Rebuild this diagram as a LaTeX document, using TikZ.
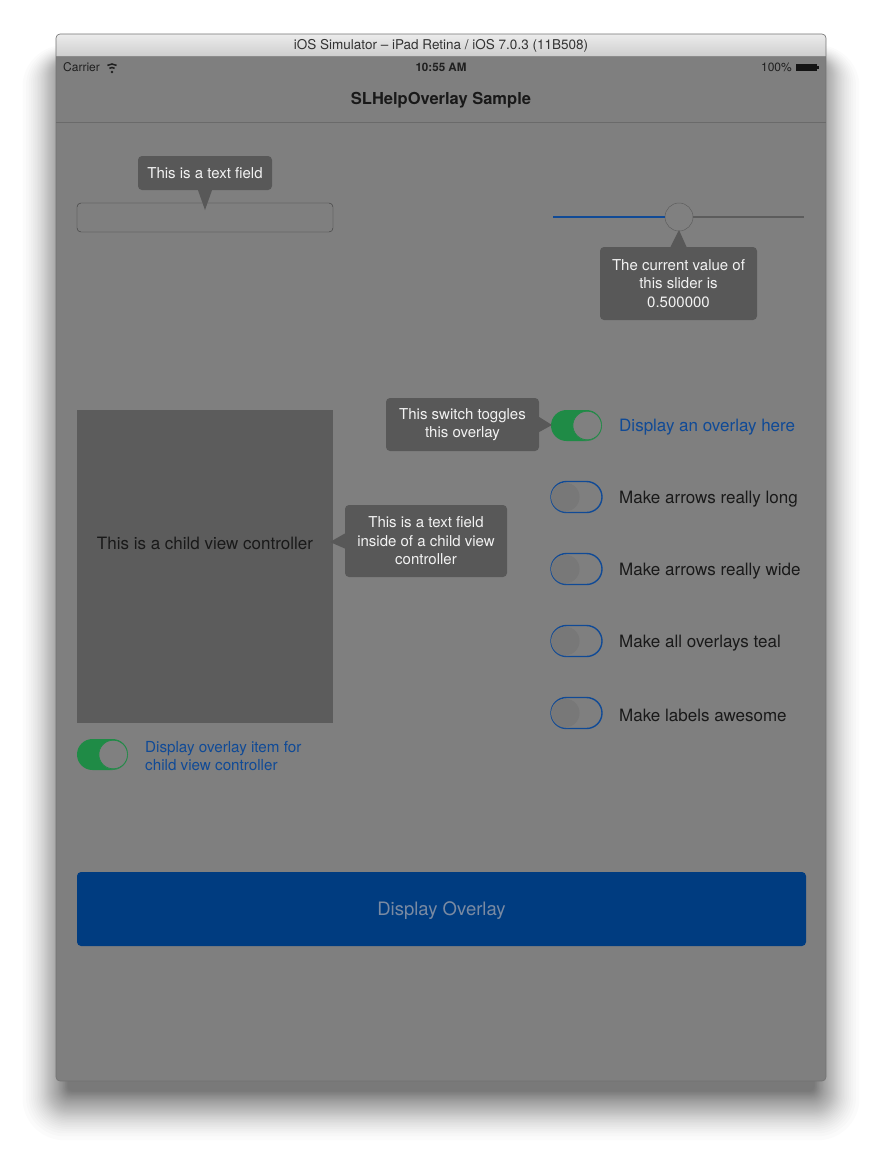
\documentclass[tikz,border=0pt]{standalone}
\usepackage{fontspec}
\setmainfont{TeX Gyre Heros}
\usepackage{tikz}
\usetikzlibrary{positioning, shadows}

\definecolor{dimbg}{RGB}{127,127,127}
\definecolor{titletop}{RGB}{236,236,236}
\definecolor{titlebot}{RGB}{206,206,206}
\definecolor{tipgray}{RGB}{88,88,88}
\definecolor{tiptext}{RGB}{242,242,242}
\definecolor{childgray}{RGB}{92,92,92}
\definecolor{dimblue}{RGB}{16,74,150}
\definecolor{dimgreen}{RGB}{31,139,70}
\definecolor{btnblue}{RGB}{0,60,128}
\definecolor{btntext}{RGB}{122,138,162}
\definecolor{barline}{RGB}{106,106,106}
\definecolor{knobgray}{RGB}{128,128,128}
\definecolor{trackgray}{RGB}{92,92,92}

\tikzstyle{helptip}    = [fill=tipgray, text=tiptext, rounded corners=4pt, inner sep=0pt, align=center, font=\fontsize{15}{18.5}\selectfont]
\tikzstyle{pointer}    = [fill=tipgray]
\tikzstyle{swbody}     = [minimum width=51pt, minimum height=31pt, rounded corners=15.5pt, inner sep=0pt]
\tikzstyle{swon}       = [swbody, fill=dimgreen]
\tikzstyle{swoff}      = [swbody, draw=dimblue, line width=1.4pt, fill=dimbg]
\tikzstyle{knob}       = [circle, minimum size=28.5pt, inner sep=0pt, fill=knobgray, drop shadow={shadow xshift=0.8pt, shadow yshift=-1.2pt, opacity=0.2}]
\tikzstyle{optlabel}   = [anchor=west, inner sep=0pt, text=black!90, font=\fontsize{17}{20}\selectfont]
\tikzstyle{statustext} = [inner sep=0pt, text=black!88, font=\fontsize{12}{14}\selectfont]

\begin{document}
\begin{tikzpicture}[x=1pt, y=-1pt]
    \useasboundingbox (0,0) rectangle (882,1160);
    \fill[white] (0,0) rectangle (882,1160);
    % Window shadow (stacked soft layers)
    \foreach \k in {1,...,40} {
        \pgfmathsetmacro\d{45*(1-sqrt(\k/40))}
        \pgfmathsetmacro\r{\d+4}
        \fill[black, opacity=0.017, rounded corners=\r pt] (68-1.2*\d, 64-0.5*\d) rectangle (814+1.2*\d, 1091+1.3*\d);
    }
    % Window: title bar and dimmed content
    \begin{scope}
        \clip[rounded corners=4pt] (56,34) rectangle (826,1081);
        \fill[dimbg] (56,34) rectangle (826,1081);
        \shade[top color=titletop, bottom color=titlebot] (56,34) rectangle (826,56);
    \end{scope}
    \draw[black!45, line width=0.6pt] (56,56) -- (826,56);
    \draw[black!55, line width=0.6pt, rounded corners=4pt] (56,34) rectangle (826,1081);
    \node[inner sep=0pt, text=black!80, font=\fontsize{13.5}{16}\selectfont] (wintitle) at (441,45.5) {iOS Simulator – iPad Retina / iOS 7.0.3 (11B508)};

    % Status bar: carrier + wifi, clock, battery
    \node[statustext, anchor=west] (carrier) at (63,67) {Carrier};
    \coordinate (wifi) at (112,72);
    \fill[black!88] (wifi) circle (1.3);
    \foreach \r in {4.5,8}
        \draw[black!88, line width=1.5pt] (wifi) ++(235:\r) arc (235:305:\r);
    \node[statustext, font=\fontsize{11.6}{14}\selectfont\bfseries] (clock) at (441,67) {10:55 AM};
    \node[statustext, anchor=east] (charge) at (792,67) {100\%};
    \node[fill=black!92, minimum width=21pt, minimum height=7pt, inner sep=0pt, right=4pt of charge] (batt) {};
    \fill[black!92] (batt.east) ++(0,-1.5) rectangle ++(1.5,3);

    % Navigation bar
    \node[inner sep=0pt, text=black!90, font=\fontsize{16.5}{19}\selectfont\bfseries] (navtitle) at (441,100.5) {SLHelpOverlay Sample};
    \draw[barline, line width=0.8pt] (56,122) -- (826,122);

    % Row 1: text field (left) and slider (right)
    \node[draw=black!55!dimbg, rounded corners=4pt, minimum width=256pt, minimum height=29pt, inner sep=0pt] (field) at (205,217.5) {};
    \coordinate (slstart) at (553,217);
    \coordinate (slend)   at (804,217);
    \node[knob, draw=black!25!dimbg, line width=0.5pt, minimum size=28pt] (sknob) at (679,217) {};
    \draw[dimblue, line width=2pt] (slstart) -- (sknob);
    \draw[trackgray, line width=1.5pt] (sknob) -- (slend);

    % Row 2: child view (left) and switches (right)
    \node[fill=childgray, minimum width=256pt, minimum height=313pt, inner sep=0pt] (childview) at (205,566.5) {};
    \node[inner sep=0pt, text=black!90, font=\fontsize{17}{20}\selectfont] (childtext) at (205,543.5) {This is a child view controller};
    \node[swon] (swmain) at (576.5,425.5) {};
    \node[knob, draw=dimgreen, line width=0.6pt] (swmainknob) at ([xshift=-15pt]swmain.east) {};
    \node[optlabel, text=dimblue] (lblmain) at (619,427.5) {Display an overlay here};
    \foreach \y/\txt [count=\i] in {497/Make arrows really long, 569/Make arrows really wide, 641/Make all overlays teal, 713/Make labels awesome} {
        \node[swoff] (sw\i) at (576.5,\y) {};
        \node[knob, fill=black!6!knobgray] (knob\i) at ([xshift=15pt]sw\i.west) {};
        \node[optlabel] (lbl\i) at (619,\y+2) {\txt};
    }
    \node[swon] (swchild) at (102.5,754.5) {};
    \node[knob, draw=dimgreen, line width=0.6pt] (swchildknob) at ([xshift=-15pt]swchild.east) {};
    \node[optlabel, text=dimblue, align=left, font=\fontsize{15.2}{18}\selectfont] (lblchild) at (145,756) {Display overlay item for\\child view controller};

    % Row 3: button
    \node[fill=btnblue, rounded corners=4pt, minimum width=729pt, minimum height=74pt, inner sep=0pt] (btn) at (441.5,909) {};
    \node[inner sep=0pt, text=btntext, font=\fontsize{18.5}{22}\selectfont] (btntext) at (441.5,911) {Display Overlay};

    % Help overlay tooltips
    \node[helptip, minimum width=134pt, minimum height=34pt] (tipfield) at (205,173) {This is a text field};
    \node[helptip, minimum width=157pt, minimum height=73pt] (tipslider) at (678.5,283.5) {The current value of\\this slider is\\0.500000};
    \node[helptip, minimum width=153pt, minimum height=53pt] (tipswitch) at (462.5,424.5) {This switch toggles\\this overlay};
    \node[helptip, minimum width=162pt, minimum height=72pt] (tipchild) at (426,541) {This is a text field\\inside of a child view\\controller};
    \coordinate (fieldtip)  at (205,210);
    \coordinate (slidertip) at (679,230);
    \coordinate (switchtip) at (552,425);
    \coordinate (childtip)  at (330,542);
    \fill[pointer] ([xshift=-7pt]tipfield.south)  -- (fieldtip)  -- ([xshift=7pt]tipfield.south)  -- cycle;
    \fill[pointer] ([xshift=-8pt]tipslider.north) -- (slidertip) -- ([xshift=8pt]tipslider.north) -- cycle;
    \fill[pointer] ([yshift=7.5pt]tipswitch.east) -- (switchtip) -- ([yshift=-7.5pt]tipswitch.east) -- cycle;
    \fill[pointer] ([yshift=7.5pt]tipchild.west)  -- (childtip)  -- ([yshift=-7.5pt]tipchild.west)  -- cycle;
\end{tikzpicture}
\end{document}
